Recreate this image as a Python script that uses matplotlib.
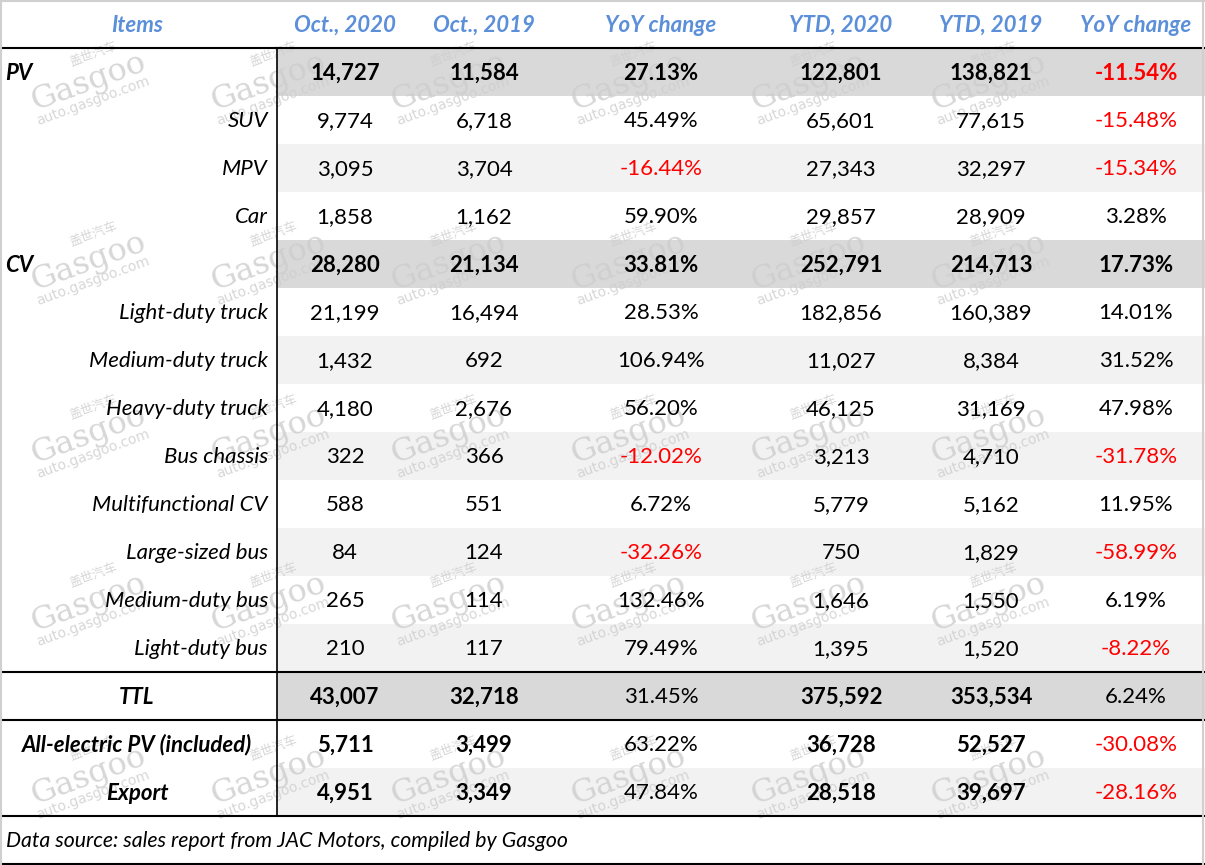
import numpy as np
import matplotlib
matplotlib.use("Agg")
import matplotlib.pyplot as plt
from matplotlib.patches import Rectangle

plt.rcParams['font.family'] = ['Lato', 'DejaVu Sans']

# table data
headers = ["Items", "Oct., 2020", "Oct., 2019", "YoY change",
           "YTD, 2020", "YTD, 2019", "YoY change"]
items = ["PV", "SUV", "MPV", "Car", "CV", "Light-duty truck",
         "Medium-duty truck", "Heavy-duty truck", "Bus chassis",
         "Multifunctional CV", "Large-sized bus", "Medium-duty bus",
         "Light-duty bus", "TTL", "All-electric PV (included)", "Export"]
oct_2020 = [14727, 9774, 3095, 1858, 28280, 21199, 1432, 4180, 322, 588,
            84, 265, 210, 43007, 5711, 4951]
oct_2019 = [11584, 6718, 3704, 1162, 21134, 16494, 692, 2676, 366, 551,
            124, 114, 117, 32718, 3499, 3349]
yoy_oct = [27.13, 45.49, -16.44, 59.90, 33.81, 28.53, 106.94, 56.20, -12.02,
           6.72, -32.26, 132.46, 79.49, 31.45, 63.22, 47.84]
ytd_2020 = [122801, 65601, 27343, 29857, 252791, 182856, 11027, 46125, 3213,
            5779, 750, 1646, 1395, 375592, 36728, 28518]
ytd_2019 = [138821, 77615, 32297, 28909, 214713, 160389, 8384, 31169, 4710,
            5162, 1829, 1550, 1520, 353534, 52527, 39697]
yoy_ytd = [-11.54, -15.48, -15.34, 3.28, 17.73, 14.01, 31.52, 47.98, -31.78,
           11.95, -58.99, 6.19, -8.22, 6.24, -30.08, -28.16]
source = "Data source: sales report from JAC Motors, compiled by Gasgoo"

W, H = 1205, 865
ROW_H = 48
col_x = [137, 345, 484, 661, 841, 991, 1136]
split_x = 277
header_blue = "#5b8fd9"
FS = 16

fig = plt.figure(figsize=(W / 100, H / 100), dpi=100)
ax = fig.add_axes([0, 0, 1, 1])
ax.set_xlim(0, W)
ax.set_ylim(H, 0)
ax.axis("off")

# row shading (data columns only)
dark = {"PV", "CV", "TTL"}
light = {"MPV", "Medium-duty truck", "Bus chassis", "Large-sized bus",
         "Light-duty bus", "Export"}
for i, name in enumerate(items):
    top = ROW_H * (i + 1)
    if name in dark:
        c = "#d9d9d9"
    elif name in light:
        c = "#f2f2f2"
    else:
        continue
    ax.add_patch(Rectangle((split_x, top), W - split_x, ROW_H, color=c, lw=0, zorder=0))

# watermarks
def watermark(cx, cy, ang=20):
    a = np.deg2rad(ang)
    u = np.array([np.cos(a), -np.sin(a)])
    v = np.array([np.sin(a), np.cos(a)])
    wm = "#cdcdcd"
    for (du, dv, txt, fs, fam) in [
        (0, 0, "Gasgoo", 23, ["DejaVu Serif"]),
        (14, -24, "盖世汽车", 9, ["Noto Sans CJK SC", "DejaVu Sans"]),
        (-2, 19, "auto.gasgoo.com", 10, ["DejaVu Sans"]),
    ]:
        p = np.array([cx, cy]) + du * u + dv * v
        ax.text(p[0], p[1], txt, fontsize=fs, color=wm, family=fam,
                rotation=ang, rotation_mode="anchor", ha="center",
                va="center", alpha=0.8, zorder=1)

for wy in [82, 262, 435, 603, 776]:
    for wx in [88, 268, 448, 628, 808, 988]:
        watermark(wx, wy)

# header
for x, h in zip(col_x, headers):
    ax.text(x, 25, h, fontsize=16, color=header_blue, fontweight="bold",
            fontstyle="italic", ha="center", va="center", zorder=3)

# rows
left_items = {"PV", "CV"}
center_items = {"TTL", "All-electric PV (included)", "Export"}
bold_rows = {"PV", "CV", "TTL", "All-electric PV (included)", "Export"}
for i, name in enumerate(items):
    yc = ROW_H * (i + 1) + ROW_H / 2 + 1
    bold = name in bold_rows
    fw = "bold" if bold else "normal"
    if name in left_items:
        ax.text(5, yc, name, fontsize=FS, fontweight="bold", fontstyle="italic",
                ha="left", va="center", zorder=3)
    elif name in center_items:
        ax.text(col_x[0], yc, name, fontsize=FS, fontweight="bold",
                fontstyle="italic", ha="center", va="center", zorder=3)
    else:
        ax.text(268, yc, name, fontsize=FS, fontstyle="italic",
                ha="right", va="center", zorder=3)
    pct_bold = name in {"PV", "CV"}
    vals = [(oct_2020[i], False), (oct_2019[i], False), (yoy_oct[i], True),
            (ytd_2020[i], False), (ytd_2019[i], False), (yoy_ytd[i], True)]
    for x, (v, is_pct) in zip(col_x[1:], vals):
        if is_pct:
            s = f"{v:.2f}%"
            color = "#ff0000" if v < 0 else "black"
            w = "bold" if pct_bold else "normal"
        else:
            s = f"{v:,}"
            color = "black"
            w = fw
        ax.text(x, yc, s, fontsize=FS, fontweight=w, color=color,
                ha="center", va="center", zorder=3)

ax.text(6, 841, source, fontsize=15.3, fontstyle="italic", ha="left",
        va="center", zorder=3)

# lines
for y in [48, 672, 720, 816, 864]:
    ax.plot([0, W], [y, y], color="black", lw=1.5, zorder=4)
ax.plot([split_x, split_x], [48, 816], color="black", lw=1.2, zorder=4)
ax.plot([0, W], [1, 1], color="#d0d0d0", lw=1.5, zorder=4)
ax.plot([1, 1], [0, H], color="#d0d0d0", lw=1.5, zorder=4)
ax.plot([W - 2, W - 2], [0, H], color="#d0d0d0", lw=1.5, zorder=4)

fig.savefig("out.png", dpi=100)
